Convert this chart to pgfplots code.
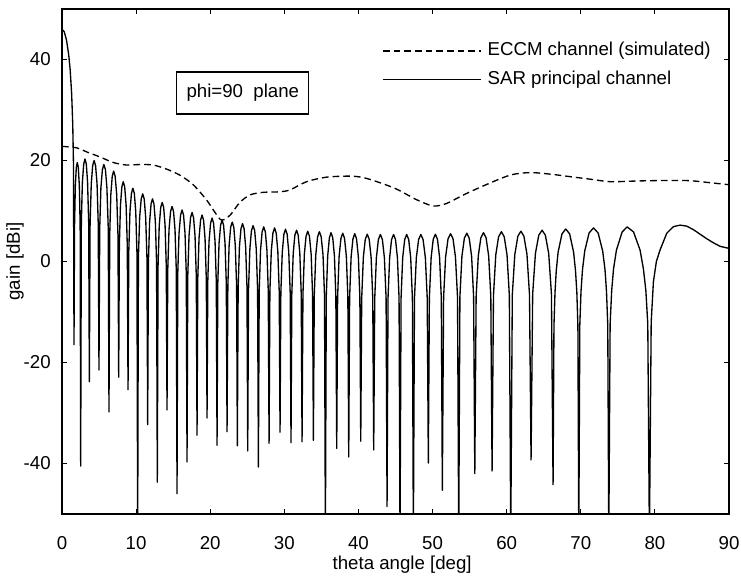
\documentclass[border=0pt]{standalone}
\usepackage{pgfplots}
\pgfplotsset{compat=1.18}
\usepackage{fontspec}
\setmainfont{Liberation Sans}

\begin{document}
\fontsize{14}{17}\selectfont
\begin{tikzpicture}
\begin{axis}[
    name=ax,
    scale only axis,
    width=500.25pt, height=378.75pt,
    xmin=0, xmax=90, ymin=-50, ymax=50,
    xtick={0,10,...,90}, ytick={-40,-20,0,20,40},
    tick pos=both, tick align=inside,
    major tick length=3.75pt,
    axis line style={line width=0.9pt},
    every tick/.style={black, line width=0.9pt},
    /pgf/number format/assume math mode=true,
    xticklabel style={yshift=-12pt},
    yticklabel style={xshift=-3.6pt},
    xlabel={theta angle [deg]},
    ylabel={gain [dBi]},
    every axis x label/.style={at={(axis description cs:0.51,-0.101)}, anchor=center},
    every axis y label/.style={at={(axis description cs:-0.0705,0.5)}, anchor=center, rotate=90},
    legend cell align=left,
    legend image code/.code={\draw[#1] (0pt,0pt) -- (73.5pt,0pt);},
    legend style={draw=none, fill=none, at={(axis cs:43.18,38.9)}, anchor=west,
        inner sep=0pt, row sep=7.7pt,
        nodes={inner sep=0pt, text height=10.5pt, text depth=3pt},
        /tikz/every odd column/.append style={column sep=4.5pt}},
]

% ECCM channel (simulated)
\addplot[black, line width=1pt, smooth, tension=0.5, dash pattern=on 5pt off 3pt] coordinates {
(0,22.8) (2,22.5) (3.33,21.7) (5.13,20.7) (6.93,19.6) (8.73,19.1) (10.5,19.2) (12.3,19.1)
(14.1,18.3) (15.9,17.1) (17.7,15.2) (19.5,12.2) (20.7,9.6) (21.55,8.2) (22.7,9.2) (24.0,11.7)
(25.4,13.2) (27.2,13.7) (29.4,13.8) (30.8,14.2) (33.0,15.8) (35.7,16.7) (38.9,16.9) (40.7,16.6)
(42.9,15.6) (45.2,14.3) (47.9,12.2) (50.1,11.0) (51.9,11.5) (54.2,13.2) (56.9,15.0) (60.46,17.1)
(63.16,17.6) (65.86,17.3) (68.56,16.8) (71.26,16.3) (73.95,15.8) (76.65,15.9) (79.35,16.0)
(82.05,16.05) (84.75,16.0) (87.45,15.6) (90,15.2)
};
\addlegendentry{ECCM channel (simulated)}

% SAR principal channel
\addplot[black, line width=1pt, line join=round] coordinates {
(0,46) (0.3,45.5) (0.6,43.9) (0.9,41) (1.1,38) (1.3,33.3) (1.45,27.2) (1.55,19.1) (1.62,-16.5)
(1.69,7.0) (1.80,15.0) (1.93,18.6) (2.06,19.6) (2.20,18.6) (2.34,15.0) (2.45,7.0) (2.52,-40.5)
(2.61,7.7) (2.75,15.7) (2.93,19.3) (3.10,20.3) (3.28,19.3) (3.45,15.7) (3.60,7.7) (3.69,-23.8)
(3.79,7.4) (3.95,15.4) (4.14,19.0) (4.33,20.0) (4.53,19.0) (4.73,15.4) (4.89,7.4) (4.99,-21.5)
(5.09,6.6) (5.25,14.6) (5.45,18.2) (5.65,19.2) (5.86,18.2) (6.06,14.6) (6.24,6.6) (6.34,-29.8)
(6.44,5.3) (6.59,13.3) (6.78,16.9) (6.97,17.9) (7.17,16.9) (7.38,13.3) (7.55,5.3) (7.65,-22.9)
(7.74,3.2) (7.89,11.2) (8.08,14.8) (8.26,15.8) (8.46,14.8) (8.65,11.2) (8.81,3.2) (8.91,-25.4)
(9.01,1.9) (9.17,9.9) (9.37,13.5) (9.56,14.5) (9.76,13.5) (9.95,9.9) (10.11,1.9) (10.21,-55)
(10.31,0.8) (10.48,8.8) (10.69,12.4) (10.89,13.4) (11.09,12.4) (11.29,8.8) (11.46,0.8) (11.56,-32.3)
(11.66,-0.2) (11.82,7.8) (12.02,11.4) (12.21,12.4) (12.41,11.4) (12.60,7.8) (12.76,-0.2) (12.86,-43.7)
(12.96,-0.9) (13.12,7.1) (13.32,10.7) (13.52,11.7) (13.72,10.7) (13.91,7.1) (14.07,-0.9) (14.17,-29.4)
(14.27,-1.7) (14.44,6.3) (14.65,9.9) (14.85,10.9) (15.05,9.9) (15.25,6.3) (15.42,-1.7) (15.52,-46)
(15.62,-2.4) (15.79,5.6) (16.00,9.2) (16.20,10.2) (16.40,9.2) (16.60,5.6) (16.77,-2.4) (16.87,-39.7)
(16.97,-2.9) (17.14,5.1) (17.35,8.7) (17.55,9.7) (17.75,8.7) (17.95,5.1) (18.12,-2.9) (18.22,-34.4)
(18.32,-3.4) (18.49,4.6) (18.70,8.2) (18.90,9.2) (19.10,8.2) (19.30,4.6) (19.47,-3.4) (19.57,-31)
(19.67,-4.0) (19.84,4.0) (20.05,7.6) (20.25,8.6) (20.45,7.6) (20.65,4.0) (20.82,-4.0) (20.92,-36.4)
(21.02,-4.4) (21.19,3.6) (21.40,7.2) (21.60,8.2) (21.80,7.2) (22.00,3.6) (22.17,-4.4) (22.27,-33.7)
(22.38,-4.8) (22.55,3.2) (22.76,6.8) (22.97,7.8) (23.18,6.8) (23.38,3.2) (23.56,-4.8) (23.66,-36.5)
(23.77,-5.1) (23.94,2.9) (24.15,6.5) (24.36,7.5) (24.57,6.5) (24.78,2.9) (24.96,-5.1) (25.06,-37.5)
(25.17,-5.5) (25.35,2.5) (25.56,6.1) (25.78,7.1) (26.00,6.1) (26.21,2.5) (26.39,-5.5) (26.50,-40.7)
(26.61,-5.75) (26.79,2.25) (27.00,5.85) (27.22,6.85) (27.44,5.85) (27.65,2.25) (27.83,-5.75) (27.94,-36)
(28.05,-5.95) (28.24,2.05) (28.46,5.65) (28.68,6.65) (28.90,5.65) (29.12,2.05) (29.31,-5.95) (29.42,-33.8)
(29.53,-6.2) (29.72,1.8) (29.94,5.4) (30.16,6.4) (30.38,5.4) (30.60,1.8) (30.79,-6.2) (30.90,-35.9)
(31.01,-6.4) (31.20,1.6) (31.42,5.2) (31.65,6.2) (31.87,5.2) (32.09,1.6) (32.28,-6.4) (32.39,-35.7)
(32.51,-6.6) (32.70,1.4) (32.93,5.0) (33.16,6.0) (33.39,5.0) (33.62,1.4) (33.81,-6.6) (33.92,-35.4)
(34.04,-6.7) (34.24,1.3) (34.49,4.9) (34.73,5.9) (34.97,4.9) (35.22,1.3) (35.42,-6.7) (35.54,-55)
(35.66,-6.9) (35.85,1.1) (36.08,4.7) (36.30,5.7) (36.53,4.7) (36.76,1.1) (36.95,-6.9) (37.07,-37)
(37.19,-7.0) (37.39,1.0) (37.64,4.6) (37.88,5.6) (38.12,4.6) (38.37,1.0) (38.57,-7.0) (38.69,-38.7)
(38.81,-7.1) (39.01,0.9) (39.26,4.5) (39.50,5.5) (39.74,4.5) (39.99,0.9) (40.19,-7.1) (40.31,-35.6)
(40.44,-7.2) (40.66,0.8) (40.92,4.4) (41.19,5.4) (41.45,4.4) (41.71,0.8) (41.93,-7.2) (42.06,-37.3)
(42.20,-7.25) (42.42,0.75) (42.69,4.35) (42.96,5.35) (43.23,4.35) (43.50,0.75) (43.73,-7.25) (43.86,-48.5)
(43.99,-7.25) (44.21,0.75) (44.47,4.35) (44.74,5.35) (45.00,4.35) (45.26,0.75) (45.48,-7.25) (45.61,-55)
(45.75,-7.25) (45.97,0.75) (46.24,4.35) (46.51,5.35) (46.78,4.35) (47.05,0.75) (47.28,-7.25) (47.41,-55)
(47.56,-7.25) (47.81,0.75) (48.12,4.35) (48.42,5.35) (48.72,4.35) (49.03,0.75) (49.28,-7.25) (49.43,-39.9)
(49.57,-7.2) (49.81,0.8) (50.09,4.4) (50.38,5.4) (50.66,4.4) (50.95,0.8) (51.18,-7.2) (51.32,-45.3)
(51.49,-7.1) (51.76,0.9) (52.09,4.5) (52.43,5.5) (52.76,4.5) (53.09,0.9) (53.37,-7.1) (53.53,-55)
(53.69,-7.0) (53.96,1.0) (54.29,4.6) (54.62,5.6) (54.95,4.6) (55.27,1.0) (55.54,-7.0) (55.70,-42)
(55.88,-6.9) (56.17,1.1) (56.52,4.7) (56.87,5.7) (57.22,4.7) (57.57,1.1) (57.86,-6.9) (58.03,-41.5)
(58.22,-6.7) (58.53,1.3) (58.91,4.9) (59.29,5.9) (59.67,4.9) (60.05,1.3) (60.36,-6.7) (60.55,-55)
(60.76,-6.6) (61.10,1.4) (61.51,5.0) (61.92,6.0) (62.33,5.0) (62.74,1.4) (63.08,-6.6) (63.29,-39.3)
(63.51,-6.4) (63.88,1.6) (64.33,5.2) (64.78,6.2) (65.22,5.2) (65.67,1.6) (66.04,-6.4) (66.26,-44.2)
(66.38,-12.75) (66.52,-6.15) (66.69,-1.85) (66.94,1.85) (67.46,5.45) (67.97,6.45) (68.50,5.45)
(69.03,1.85) (69.29,-1.85) (69.47,-6.15) (69.61,-12.75) (69.73,-55)
(69.87,-12.55) (70.03,-5.95) (70.23,-1.65) (70.53,2.05) (71.12,5.65) (71.72,6.65) (72.34,5.65)
(72.96,2.05) (73.27,-1.65) (73.47,-5.95) (73.64,-12.55) (73.78,-55)
(73.96,-12.35) (74.17,-5.75) (74.42,-1.45) (74.81,2.25) (75.58,5.85) (76.25,6.85) (77.12,5.85)
(78.00,2.25) (78.45,-1.45) (78.78,-5.75) (79.04,-12.35) (79.26,-55)
(79.5,-12) (79.8,-4) (80.2,0) (80.7,2.3) (81.6,5.6) (82.5,6.9) (83.4,7.2) (84.3,7.0) (85.2,6.3)
(86.1,5.4) (87.0,4.5) (87.9,3.7) (88.8,3.0) (90,2.6)
};
\addlegendentry{SAR principal channel}

\node[draw, line width=0.9pt, fill=white, minimum width=99pt, minimum height=31.5pt, inner sep=0pt]
    at (axis cs:24.4,33.35) {phi=90\ \ plane};
\end{axis}
\pgfresetboundingbox
\path ([shift={(-46.5pt,-48pt)}]ax.south west) rectangle ([shift={(9pt,6.75pt)}]ax.north east);
\end{tikzpicture}
\end{document}
